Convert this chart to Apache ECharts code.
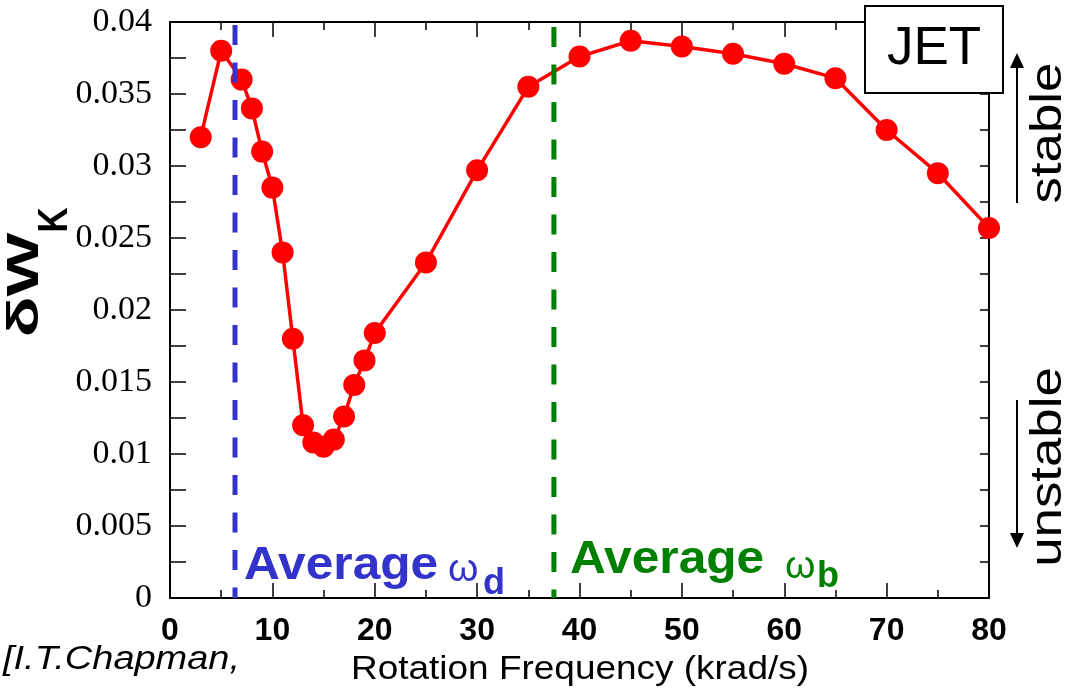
<!DOCTYPE html>
<html>
<head>
<meta charset="utf-8">
<script src="https://cdn.jsdelivr.net/npm/echarts@6/dist/echarts.min.js"></script>
<style>
  html, body { margin: 0; padding: 0; background: #fff; }
  #main { width: 1067px; height: 695px; }
</style>
</head>
<body>
<div id="main"></div>
<script>
// data
const freq = [3, 5, 7, 8, 9, 10, 11, 12, 13, 14, 15, 16, 17, 18, 19, 20, 25, 30, 35, 40, 45, 50, 55, 60, 65, 70, 75, 80];
const dWk = [0.032, 0.038, 0.036, 0.034, 0.031, 0.0285, 0.024, 0.018, 0.012, 0.0108, 0.0105, 0.011, 0.0126, 0.0148,
  0.0165, 0.0184, 0.0233, 0.0297, 0.0355, 0.0376, 0.0387, 0.0383, 0.0378, 0.0371, 0.0361, 0.0325, 0.0295, 0.0257];
const omegaD = 6.35;
const omegaB = 37.5;
const xRange = [0, 80];
const yRange = [0, 0.04];

const SANS = "'Liberation Sans', Arial, sans-serif";
const SERIF = "'Liberation Serif', 'Times New Roman', serif";
const BLUE = "#3333cc";
const GREEN = "#008000";

const chart = echarts.init(document.getElementById("main"));

// shared axis look
function xAx(pos, showLabel) {
  return {
    type: "value",
    position: pos,
    min: xRange[0],
    max: xRange[1],
    interval: 10,
    axisLine: { show: true, onZero: false, lineStyle: { color: "#000", width: 2 } },
    axisTick: { show: true, inside: true, length: 15, lineStyle: { color: "#000", width: 1.5 } },
    minorTick: { show: true, splitNumber: 2, length: 8, lineStyle: { color: "#000", width: 1.5 } },
    splitLine: { show: false },
    axisLabel: {
      show: showLabel,
      margin: 17,
      fontSize: 32,
      fontWeight: "bold",
      fontFamily: SANS,
      color: "#000",
    },
  };
}
function yAx(pos, showLabel, tickLen) {
  return {
    type: "value",
    position: pos,
    min: yRange[0],
    max: yRange[1],
    interval: 0.005,
    axisLine: { show: true, onZero: false, lineStyle: { color: "#000", width: 2 } },
    axisTick: { show: true, inside: true, length: tickLen, lineStyle: { color: "#000", width: 1.5 } },
    minorTick: { show: true, splitNumber: 2, length: tickLen, lineStyle: { color: "#000", width: 1.5 } },
    splitLine: { show: false },
    axisLabel: {
      show: showLabel,
      margin: 18,
      fontSize: 34,
      fontFamily: SERIF,
      color: "#000",
    },
  };
}

function txt(text, x, y, o) {
  return {
    type: "text",
    x: x,
    y: y,
    rotation: o.rot || 0,
    scaleX: o.sx || 1,
    z: 100,
    style: {
      text: text,
      fill: o.color || "#000",
      fontSize: o.size,
      fontWeight: o.weight || "normal",
      fontStyle: o.style || "normal",
      fontFamily: o.family || SANS,
      align: o.align || "left",
      verticalAlign: "middle",
    },
  };
}

chart.setOption({
  animation: false,
  backgroundColor: "#fff",
  grid: { left: 170, right: 78, top: 22, bottom: 97 },
  xAxis: [xAx("bottom", true), xAx("top", false)],
  yAxis: [yAx("left", true, 16), yAx("right", false, 9)],
  series: [
    {
      type: "line",
      data: freq.map((f, i) => [f, dWk[i]]),
      symbol: "circle",
      symbolSize: 22,
      lineStyle: { color: "#ff0000", width: 3.5 },
      itemStyle: { color: "#ff0000" },
      z: 2,
    },
    {
      type: "line",
      data: [[omegaD, yRange[1]], [omegaD, yRange[0]]],
      symbol: "none",
      lineStyle: { color: BLUE, width: 5, type: [20, 17.5], dashOffset: -3 },
      z: 5,
    },
    {
      type: "line",
      data: [[omegaB, yRange[1]], [omegaB, yRange[0]]],
      symbol: "none",
      lineStyle: { color: GREEN, width: 5, type: [20, 17.5], dashOffset: -5 },
      z: 5,
    },
  ],
  graphic: [
    // JET box
    {
      type: "rect",
      z: 90,
      shape: { x: 865, y: 6, width: 138, height: 87 },
      style: { fill: "#fff", stroke: "#000", lineWidth: 2 },
    },
    txt("JET", 934, 49, { size: 53, align: "center" }),

    // y title
    txt("δW", 26, 285, { size: 45, weight: "bold", rot: Math.PI / 2, sx: 1.5, align: "center" }),
    txt("K", 55, 220, { size: 42, weight: "bold", rot: Math.PI / 2, sx: 0.83, align: "center" }),

    // x title and citation
    txt("Rotation Frequency (krad/s)", 580, 670, { size: 33, sx: 1.12, align: "center" }),
    txt("[I.T.Chapman,", 3, 660, { size: 33, style: "italic", sx: 1.15 }),

    // average frequency labels
    txt("Average", 244, 566, { size: 46, weight: "bold", color: BLUE, sx: 1.08 }),
    txt("ω", 448, 570, { size: 39, color: BLUE }),
    txt("d", 483, 584, { size: 36, weight: "bold", color: BLUE }),
    txt("Average", 570, 560, { size: 46, weight: "bold", color: GREEN, sx: 1.08 }),
    txt("ω", 785, 567, { size: 39, color: GREEN }),
    txt("b", 817, 577, { size: 36, weight: "bold", color: GREEN }),

    // stable / unstable
    txt("stable", 1049, 133, { size: 44, rot: Math.PI / 2, sx: 1.2, align: "center" }),
    txt("unstable", 1049, 467, { size: 44, rot: Math.PI / 2, sx: 1.2, align: "center" }),
    { type: "line", z: 100, shape: { x1: 1017, y1: 203, x2: 1017, y2: 66 }, style: { stroke: "#000", lineWidth: 2 } },
    { type: "polygon", z: 100, shape: { points: [[1017, 53], [1010, 68], [1024, 68]] }, style: { fill: "#000" } },
    { type: "line", z: 100, shape: { x1: 1017, y1: 400, x2: 1017, y2: 535 }, style: { stroke: "#000", lineWidth: 2 } },
    { type: "polygon", z: 100, shape: { points: [[1017, 548], [1010, 533], [1024, 533]] }, style: { fill: "#000" } },
  ],
});
</script>
</body>
</html>
